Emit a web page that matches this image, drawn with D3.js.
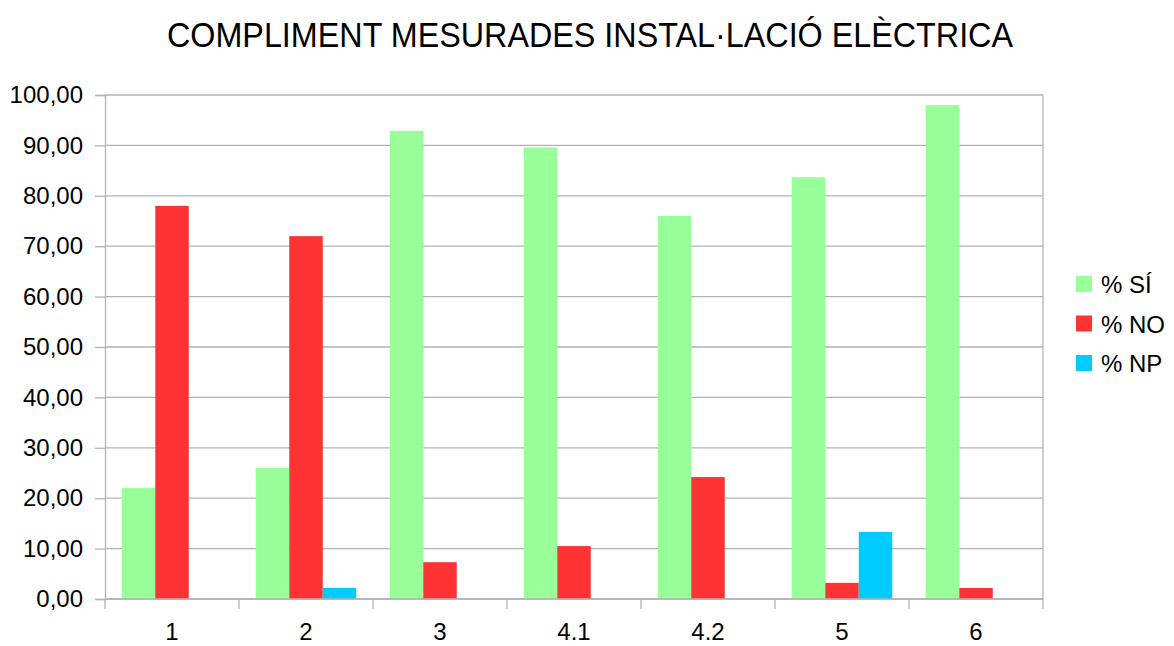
<!DOCTYPE html>
<html>
<head>
<meta charset="utf-8">
<script src="https://cdn.jsdelivr.net/npm/d3@7"></script>
<style>
  html, body { margin: 0; padding: 0; background: #fff; }
  svg { display: block; font-family: "Liberation Sans", Arial, sans-serif; }
</style>
</head>
<body>
<svg id="chart" width="1174" height="646"></svg>
<script>
// Categories (measures) and percentage values per answer
const categories = ["1", "2", "3", "4.1", "4.2", "5", "6"];
const seriesNames = ["% SÍ", "% NO", "% NP"];
const valuesSi = [22.0, 26.0, 92.9, 89.6, 76.0, 83.7, 98.0];
const valuesNo = [78.0, 72.0, 7.3, 10.5, 24.2, 3.2, 2.2];
const valuesNp = [0, 2.2, 0, 0, 0, 13.3, 0];
const seriesColors = ["#99ff99", "#ff3333", "#00ccff"];
const yTicks = [0, 10, 20, 30, 40, 50, 60, 70, 80, 90, 100];
const titleText = "COMPLIMENT MESURADES INSTAL·LACIÓ ELÈCTRICA";

const series = [valuesSi, valuesNo, valuesNp];

const svg = d3.select("#chart");
const margin = { left: 105, top: 95, right: 1174 - 1043, bottom: 646 - 599 };
const W = 1174, H = 646;
const plotW = W - margin.left - margin.right;
const plotH = H - margin.top - margin.bottom;

const x = d3.scaleBand().domain(categories).range([0, plotW]).paddingInner(0).paddingOuter(0);
const inner = d3.scaleBand().domain(d3.range(series.length)).range([x.bandwidth() * 0.125, x.bandwidth() * 0.875]);
const y = d3.scaleLinear().domain([0, 100]).range([plotH, 0]);

const g = svg.append("g").attr("transform", `translate(${margin.left},${margin.top})`);

// Horizontal grid lines
g.append("g")
  .selectAll("line")
  .data(yTicks)
  .join("line")
  .attr("x1", 0).attr("x2", plotW)
  .attr("y1", d => y(d)).attr("y2", d => y(d))
  .attr("stroke", "#b3b3b3").attr("stroke-width", 1.3);

// Right border of the plot area
g.append("line")
  .attr("x1", plotW).attr("x2", plotW).attr("y1", 0).attr("y2", plotH)
  .attr("stroke", "#b3b3b3").attr("stroke-width", 1.3);

// Bars
categories.forEach((cat, i) => {
  series.forEach((vals, s) => {
    if (vals[i] <= 0) return;
    g.append("rect")
      .attr("x", x(cat) + inner(s))
      .attr("y", y(vals[i]))
      .attr("width", inner.bandwidth())
      .attr("height", plotH - y(vals[i]))
      .attr("fill", seriesColors[s]);
  });
});

// Y axis
const yAxis = g.append("g")
  .call(d3.axisLeft(y).tickValues(yTicks).tickSize(10).tickPadding(12)
    .tickFormat(d => d3.format(".2f")(d).replace(".", ",")));
yAxis.select(".domain").attr("stroke", "#b3b3b3").attr("stroke-width", 1.3);
yAxis.selectAll(".tick line").attr("stroke", "#b3b3b3").attr("stroke-width", 1.3);
yAxis.selectAll(".tick text").attr("font-size", 24).attr("fill", "#000")
  .attr("font-family", "Liberation Sans, Arial, sans-serif");

// X axis: ticks at category boundaries, labels at band centres
const xAxisG = g.append("g").attr("transform", `translate(0,${plotH})`);
xAxisG.append("line").attr("x1", 0).attr("x2", plotW)
  .attr("stroke", "#b3b3b3").attr("stroke-width", 1.3);
const boundaries = categories.map(c => x(c)).concat([plotW]);
xAxisG.selectAll("line.bound")
  .data(boundaries)
  .join("line")
  .attr("class", "bound")
  .attr("x1", d => d).attr("x2", d => d)
  .attr("y1", 0).attr("y2", 10)
  .attr("stroke", "#b3b3b3").attr("stroke-width", 1.3);
xAxisG.selectAll("text")
  .data(categories)
  .join("text")
  .attr("x", d => x(d) + x.bandwidth() / 2)
  .attr("y", 41)
  .attr("text-anchor", "middle")
  .attr("font-size", 24)
  .attr("fill", "#000")
  .text(d => d);

// Title
svg.append("text")
  .attr("x", 590).attr("y", 47)
  .attr("text-anchor", "middle")
  .attr("font-size", 35)
  .attr("textLength", 846)
  .attr("lengthAdjust", "spacingAndGlyphs")
  .attr("fill", "#000")
  .text(titleText);

// Legend
const legend = svg.append("g").attr("transform", "translate(1076,276)");
seriesNames.forEach((name, i) => {
  const row = legend.append("g").attr("transform", `translate(0,${i * 39.5})`);
  row.append("rect").attr("width", 16).attr("height", 16).attr("fill", seriesColors[i]);
  row.append("text").attr("x", 25).attr("y", 17)
    .attr("font-size", 24).attr("fill", "#000").text(name);
});
</script>
</body>
</html>
